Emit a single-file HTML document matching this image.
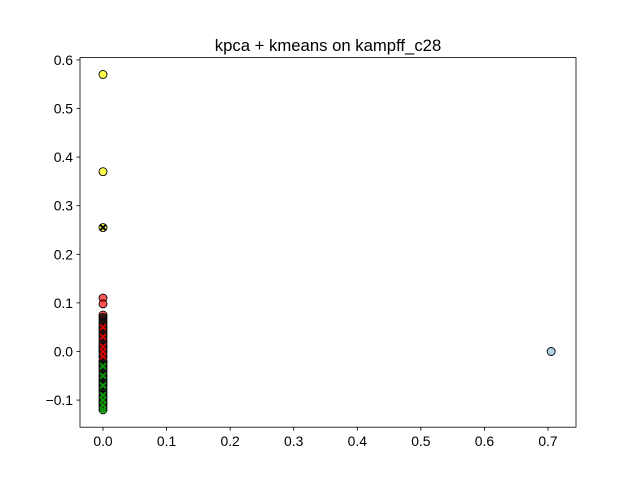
<!DOCTYPE html>
<html><head><meta charset="utf-8"><style>
body{margin:0;background:#fff;font-family:"Liberation Sans",sans-serif}
svg text{font-family:"Liberation Sans",sans-serif;font-size:13.9px;fill:#000}
</style></head><body>
<svg id="chart" width="640" height="480">
<rect width="640" height="480" fill="#fff"/>
<text x="328" y="51" text-anchor="middle" style="font-size:16.7px">kpca + kmeans on kampff_c28</text>
<g id="marks"></g>
<rect x="80" y="57.6" width="496" height="369.6" fill="none" stroke="#000" stroke-width="0.8"/>
<g id="axes"></g>
</svg>
<script>
const xTicks=[0,0.1,0.2,0.3,0.4,0.5,0.6,0.7];
const yTicks=[-0.1,0,0.1,0.2,0.3,0.4,0.5,0.6];
const yellowY=[0.57,0.37,0.255];
const redY=[0.11,0.098,0.075,0.065,0.055,0.045,0.035,0.025,0.015,0.005,-0.005,-0.012,-0.02];
const greenY=[-0.025,-0.035,-0.045,-0.055,-0.065,-0.075,-0.085,-0.095,-0.105,-0.115,-0.12];
const darkY=[0.07,0.06,0.05,0.04,0.03,0.02,0.01,0,-0.01,-0.02,-0.03,-0.04,-0.05,-0.06,-0.07,-0.08,-0.09,-0.1,-0.11];
const redCentersY=[0.05,0.03,0.01,0,-0.01];
const greenCentersY=[-0.03,-0.05,-0.07,-0.09,-0.1,-0.11,-0.12];
const yellowCentersY=[0.255];
const blueX=[0.705], blueY=[0];
const X=v=>103+v*635.7, Y=v=>351.5-v*486;
const NS="http://www.w3.org/2000/svg";
const marks=document.getElementById('marks'), axes=document.getElementById('axes');
function mk(t,a,p){const e=document.createElementNS(NS,t);for(const k in a)e.setAttribute(k,a[k]);p.appendChild(e);return e;}
function dot(x,y,fill,op){const c=mk('circle',{cx:X(x),cy:Y(y),r:4,fill:fill,'fill-opacity':op,stroke:'#000','stroke-width':0.9},marks);

}
function cross(x,y,col){const g=mk('g',{stroke:col,'stroke-width':1.8},marks);


const cx=X(x),cy=Y(y);mk('line',{x1:cx-3,y1:cy-3,x2:cx+3,y2:cy+3},g);mk('line',{x1:cx-3,y1:cy+3,x2:cx+3,y2:cy-3},g);}
redY.forEach(v=>dot(0,v,'#ff2020',0.75));
greenY.forEach(v=>dot(0,v,'#1a7a1a',0.75));
darkY.forEach(v=>dot(0,v,'#111',0.8));
yellowY.forEach(v=>dot(0,v,'#ffff20',0.8));
blueX.forEach((v,i)=>dot(v,blueY[i],'#9ecae1',0.8));
redCentersY.forEach(v=>cross(0,v,'#e00000'));
greenCentersY.forEach(v=>cross(0,v,'#0a9a0a'));
yellowCentersY.forEach(v=>cross(0,v,'#000'));
xTicks.forEach(t=>{const x=X(t);mk('line',{x1:x,y1:427.2,x2:x,y2:430.7,stroke:'#000','stroke-width':0.8},axes);
const s=mk('text',{x:x,y:446,'text-anchor':'middle'},axes);s.textContent=t.toFixed(1);

});
yTicks.forEach(t=>{const y=Y(t);mk('line',{x1:76.5,y1:y,x2:80,y2:y,stroke:'#000','stroke-width':0.8},axes);
const s=mk('text',{x:73,y:y+5,'text-anchor':'end'},axes);s.textContent=(t<0?'\u2212':'')+Math.abs(t).toFixed(1);

});
</script>
</body></html>
